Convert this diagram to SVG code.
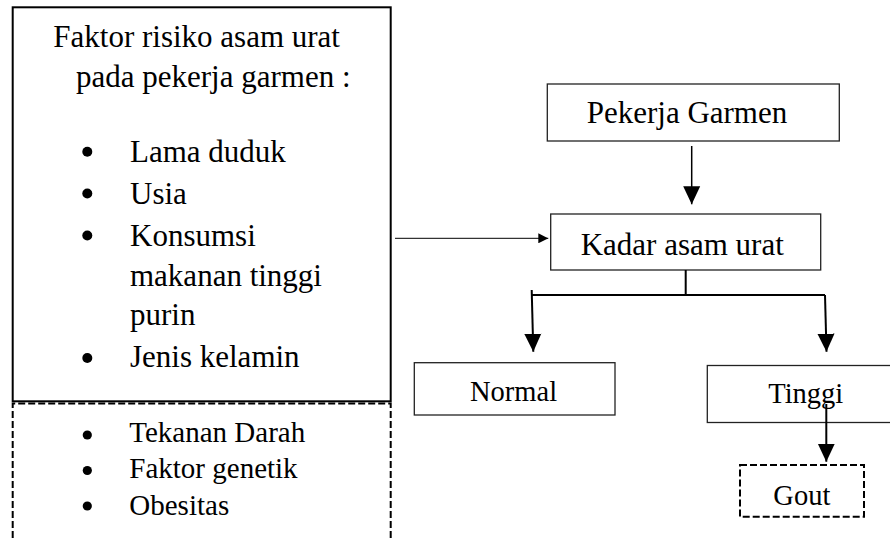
<svg xmlns="http://www.w3.org/2000/svg" width="890" height="538" viewBox="0 0 890 538">
<defs>
<style>
text{font-family:'Liberation Serif','Tinos','Times New Roman','DejaVu Serif',serif;fill:#000}
.big{font-size:31px}
.mid{font-size:29px}
.sm{font-size:28.5px}
.box{fill:#fff;stroke:#222;stroke-width:1.3}
.solid{fill:none;stroke:#000;stroke-width:2}
.dash{fill:none;stroke:#000;stroke-width:2;stroke-dasharray:7 3}
.ln{fill:none;stroke:#000;stroke-width:2}
.thin{fill:none;stroke:#000;stroke-width:1}
</style>
<marker id="ah" markerUnits="userSpaceOnUse" markerWidth="18" markerHeight="18" refX="18" refY="8.5" orient="auto" viewBox="0 0 18 17">
<path d="M0,0 L18,8.5 L0,17 z" fill="#000"/>
</marker>
<marker id="ahs" markerUnits="userSpaceOnUse" markerWidth="10" markerHeight="10" refX="10" refY="5" orient="auto" viewBox="0 0 10 10">
<path d="M0,0 L10,5 L0,10 z" fill="#000"/>
</marker>
</defs>
<rect width="890" height="538" fill="#fff"/>

<g font-family="Liberation Serif, Times New Roman, DejaVu Serif, serif">
<g id="faktor-risiko">
<rect class="solid" x="12.7" y="7.3" width="378" height="394"/>
<text class="big" x="53.3" y="47">Faktor risiko asam urat</text>
<text class="big" x="76" y="87">pada pekerja garmen :</text>
<circle cx="87.3" cy="151.7" r="5"/>
<text class="big" x="130" y="162">Lama duduk</text>
<circle cx="87.3" cy="193.5" r="5"/>
<text class="big" x="130" y="204">Usia</text>
<circle cx="87.3" cy="235.5" r="5"/>
<text class="big" x="130" y="246">Konsumsi</text>
<text class="big" x="130" y="286">makanan tinggi</text>
<text class="big" x="130" y="325">purin</text>
<circle cx="87.3" cy="358" r="5"/>
<text class="big" x="130" y="367">Jenis kelamin</text>
</g>

<g id="faktor-lain">
<path class="dash" d="M12.7,538 V403.5 H390.7 V538"/>
<circle cx="87.3" cy="435" r="4.6"/>
<text class="mid" x="129.3" y="442.3">Tekanan Darah</text>
<circle cx="87.3" cy="470.5" r="4.6"/>
<text class="mid" x="129.3" y="478.3">Faktor genetik</text>
<circle cx="87.3" cy="506" r="4.6"/>
<text class="mid" x="129.3" y="515">Obesitas</text>
</g>

<g id="pekerja-garmen">
<rect class="box" x="547.3" y="84" width="292" height="57"/>
<text class="big" x="586.7" y="123.3">Pekerja Garmen</text>
</g>

<g id="kadar-asam-urat">
<rect class="box" x="550.7" y="214" width="270" height="56"/>
<text class="big" x="580.7" y="255">Kadar asam urat</text>
</g>

<g id="normal">
<rect class="box" x="414.3" y="362.7" width="200.7" height="52.3"/>
<text class="sm" x="470" y="400.7">Normal</text>
</g>

<g id="tinggi">
<rect class="box" x="707.3" y="365.5" width="190" height="57"/>
<text class="sm" x="768.3" y="403.3">Tinggi</text>
</g>

<g id="gout">
<rect class="dash" x="740" y="465" width="124" height="51.7"/>
<text class="sm" x="773.3" y="505">Gout</text>
</g>
</g>

<g id="connectors">
<line class="thin" x1="395" y1="238.3" x2="548.3" y2="238.3" marker-end="url(#ahs)"/>
<line class="ln" style="stroke-width:1.5" x1="691.7" y1="146" x2="691.7" y2="204.3" marker-end="url(#ah)"/>
<path class="ln" d="M685.7,270 V295 M531.7,295 H825"/>
<line class="ln" x1="531.7" y1="290" x2="533.3" y2="351.7" marker-end="url(#ah)"/>
<line class="ln" x1="825" y1="295" x2="826.5" y2="351.7" marker-end="url(#ah)"/>
<line class="ln" x1="826.3" y1="404" x2="826.3" y2="461.7" marker-end="url(#ah)"/>
</g>
</svg>
